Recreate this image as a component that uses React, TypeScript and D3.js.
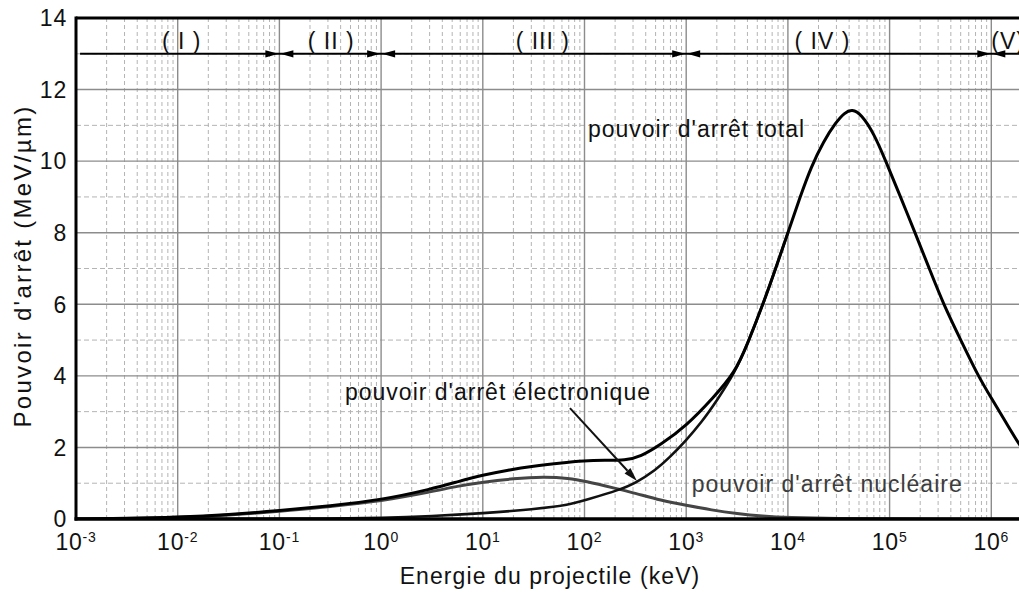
import React from 'react';
import * as d3 from 'd3';

const W = 1019;
const H = 593;

// Axis domains
const E_MIN = 1e-3;
const E_MAX = 1e7;
const Y_MIN = 0;
const Y_MAX = 14;

const X_TICK_EXPONENTS = [-3, -2, -1, 0, 1, 2, 3, 4, 5, 6];
const Y_TICKS = [0, 2, 4, 6, 8, 10, 12, 14];
const Y_MINOR = [1, 3, 5, 7, 9, 11, 13];

// Curves: log10(E in keV) and stopping power (MeV/µm)
const TOTAL_LOG_E = [-3, -2.5, -2, -1.5, -1, -0.5, 0, 0.5, 0.75, 1, 1.25, 1.5, 1.75, 2, 2.2, 2.4, 2.55, 2.75, 3, 3.27, 3.48, 3.6, 3.755, 3.88, 4.0, 4.12, 4.23, 4.35, 4.47, 4.56, 4.63, 4.72, 4.85, 4.955, 5.1, 5.25, 5.39, 5.53, 5.7, 5.87, 6.0, 6.14, 6.28, 6.45];
const TOTAL_VALUES = [0, 0.015, 0.05, 0.12, 0.23, 0.37, 0.53, 0.84, 1.04, 1.23, 1.37, 1.48, 1.56, 1.63, 1.64, 1.64, 1.74, 2.08, 2.6, 3.4, 4.1, 4.87, 6.0, 7.0, 8.0, 9.0, 9.85, 10.55, 11.08, 11.36, 11.45, 11.32, 10.75, 10.05, 9.05, 8.0, 7.0, 6.0, 5.0, 4.0, 3.38, 2.72, 2.05, 1.35];

const ELEC_LOG_E = [-3, -2, -1, -0.5, 0, 0.5, 1, 1.5, 1.86, 2, 2.35, 2.5, 2.7, 2.83, 3, 3.15, 3.3, 3.48, 3.6, 3.755, 3.88, 4.0];
const ELEC_VALUES = [0, 0.001, 0.004, 0.01, 0.03, 0.08, 0.16, 0.27, 0.4, 0.52, 0.82, 1.0, 1.37, 1.7, 2.2, 2.7, 3.3, 4.1, 4.87, 6.0, 7.0, 8.0];

const NUCL_LOG_E = [-3, -2.5, -2, -1.5, -1, -0.5, 0, 0.5, 0.75, 1, 1.3, 1.6, 1.85, 2, 2.3, 2.5, 2.75, 3, 3.25, 3.5, 3.75, 4, 4.5, 5, 6, 6.5];
const NUCL_VALUES = [0, 0.012, 0.04, 0.11, 0.21, 0.35, 0.5, 0.76, 0.92, 1.03, 1.13, 1.18, 1.14, 1.06, 0.86, 0.72, 0.52, 0.38, 0.25, 0.15, 0.08, 0.04, 0.012, 0.003, 0, 0];

// Energy-range regions
const REGION_BOUNDS_LOG = [-1, 0, 3, 6];
const REGION_LINE_START_LOG = -2.96;
const REGION_LINE_VALUE = 13;
const REGION_LABELS = ['( I )', '( II )', '( III )', '( IV )', '(V)'];
const REGION_LABEL_LOG = [-1.96, -0.49, 1.59, 4.34, 6.0];
const REGION_LABEL_ANCHOR = ['middle', 'middle', 'middle', 'middle', 'start'];

// Annotations (data coordinates: log10 E, value)
const LABEL_TOTAL = { text: "pouvoir d'arrêt total", logE: 2.034, v: 10.68 };
const LABEL_ELEC = { text: "pouvoir d'arrêt électronique", logE: -0.355, v: 3.32 };
const LABEL_NUCL = { text: "pouvoir d'arrêt nucléaire", logE: 3.054, v: 0.76 };
const ELEC_ARROW = { fromLogE: 1.857, fromV: 3.1, toLogE: 2.516, toV: 1.06 };

const X_TITLE = 'Energie du projectile (keV)';
const Y_TITLE = "Pouvoir d'arrêt (MeV/µm)";

const FONT = '"Liberation Sans", Arial, Helvetica, sans-serif';

export default function App() {
  const left = 76;
  const top = 18;
  const bottom = 519;
  const decade = 101.7;
  const right = left + decade * (Math.log10(E_MAX) - Math.log10(E_MIN));

  const x = d3.scaleLog().domain([E_MIN, E_MAX]).range([left, right]);
  const y = d3.scaleLinear().domain([Y_MIN, Y_MAX]).range([bottom, top]);

  const toPts = (le: number[], vs: number[]) => le.map((l, i) => [Math.pow(10, l), vs[i]] as [number, number]);
  const line = d3
    .line<[number, number]>()
    .x((d) => x(d[0]))
    .y((d) => y(d[1]))
    .curve(d3.curveBasis);

  const majorX: number[] = [];
  const minorX: number[] = [];
  for (let k = -3; k < 7; k++) {
    if (k > -3) majorX.push(Math.pow(10, k));
    for (let m = 2; m <= 9; m++) minorX.push(m * Math.pow(10, k));
  }

  const yLine = y(REGION_LINE_VALUE);
  const arrowLen = 13;
  const arrowHalf = 3.6;

  const ax1 = x(Math.pow(10, ELEC_ARROW.fromLogE));
  const ay1 = y(ELEC_ARROW.fromV);
  const ax2 = x(Math.pow(10, ELEC_ARROW.toLogE));
  const ay2 = y(ELEC_ARROW.toV);
  const ang = Math.atan2(ay2 - ay1, ax2 - ax1);
  const headL = 14;
  const headW = 4;
  const bx = ax2 - headL * Math.cos(ang);
  const by = ay2 - headL * Math.sin(ang);
  const px = -Math.sin(ang) * headW;
  const py = Math.cos(ang) * headW;

  return (
    <svg
      width={W}
      height={H}
      style={{ position: 'absolute', left: 0, top: 0, background: '#fff' }}
      fontFamily={FONT}
    >
      <defs>
        <clipPath id="plotclip">
          <rect x={left} y={top} width={right - left} height={bottom - top} />
        </clipPath>
      </defs>
      <rect x={0} y={0} width={W} height={H} fill="#fff" />

      {/* minor grid */}
      <g stroke="#b4b4b4" strokeWidth={1} strokeDasharray="4,3" fill="none">
        {minorX.map((v, i) => (
          <line key={'mx' + i} x1={x(v)} x2={x(v)} y1={top} y2={bottom} />
        ))}
        {Y_MINOR.map((v) => (
          <line key={'my' + v} x1={left} x2={right} y1={y(v)} y2={y(v)} strokeDasharray="5,3" />
        ))}
      </g>
      {/* major grid */}
      <g stroke="#8c8c8c" strokeWidth={1.4} fill="none">
        {majorX.map((v, i) => (
          <line key={'Mx' + i} x1={x(v)} x2={x(v)} y1={top} y2={bottom} />
        ))}
        {Y_TICKS.filter((v) => v > 0 && v < 14).map((v) => (
          <line key={'My' + v} x1={left} x2={right} y1={y(v)} y2={y(v)} />
        ))}
      </g>

      {/* curves */}
      <g clipPath="url(#plotclip)" fill="none" strokeLinecap="round" strokeLinejoin="round">
        <path d={line(toPts(NUCL_LOG_E, NUCL_VALUES)) || ''} stroke="#454545" strokeWidth={3} />
        <path d={line(toPts(ELEC_LOG_E, ELEC_VALUES)) || ''} stroke="#111" strokeWidth={2.6} />
        <path d={line(toPts(TOTAL_LOG_E, TOTAL_VALUES)) || ''} stroke="#000" strokeWidth={3} />
      </g>

      {/* frame */}
      <line x1={left} x2={W} y1={top} y2={top} stroke="#000" strokeWidth={3} />
      <line x1={left} x2={left} y1={top - 1.5} y2={bottom + 1.5} stroke="#000" strokeWidth={3} />
      <line x1={left - 1.5} x2={W} y1={bottom} y2={bottom} stroke="#000" strokeWidth={3.5} />

      {/* region arrows */}
      <line
        x1={x(Math.pow(10, REGION_LINE_START_LOG))}
        x2={W}
        y1={yLine}
        y2={yLine}
        stroke="#000"
        strokeWidth={2}
      />
      {REGION_BOUNDS_LOG.map((b, i) => {
        const xb = x(Math.pow(10, b));
        return (
          <g key={'rb' + i} fill="#000">
            <path d={`M${xb - 1},${yLine} L${xb - 1 - arrowLen},${yLine - arrowHalf} L${xb - 1 - arrowLen},${yLine + arrowHalf} Z`} />
            <path d={`M${xb + 1},${yLine} L${xb + 1 + arrowLen},${yLine - arrowHalf} L${xb + 1 + arrowLen},${yLine + arrowHalf} Z`} />
          </g>
        );
      })}
      {REGION_LABELS.map((t, i) => (
        <text
          key={'rl' + i}
          x={x(Math.pow(10, REGION_LABEL_LOG[i]))}
          y={49}
          fontSize={23}
          textAnchor={REGION_LABEL_ANCHOR[i] as any}
          fill="#111"
          letterSpacing={1}
        >
          {t}
        </text>
      ))}

      {/* y ticks */}
      {Y_TICKS.map((v) => (
        <text key={'yt' + v} x={67} y={y(v)} dy="0.36em" fontSize={23} textAnchor="end" fill="#111" letterSpacing={0.8}>
          {v}
        </text>
      ))}
      {/* x ticks */}
      {X_TICK_EXPONENTS.map((k) => (
        <text key={'xt' + k} x={x(Math.pow(10, k))} y={550} textAnchor="middle" fill="#111" fontSize={23} letterSpacing={0.8}>
          <tspan>10</tspan>
          <tspan fontSize={14} dy={-8.5}>
            {k < 0 ? '-' + Math.abs(k) : String(k)}
          </tspan>
        </text>
      ))}

      {/* axis titles */}
      <text x={550} y={584} fontSize={23} textAnchor="middle" fill="#111" letterSpacing={1.1}>
        {X_TITLE}
      </text>
      <text
        transform={`translate(31,266) rotate(-90)`}
        fontSize={24}
        textAnchor="middle"
        fill="#111"
        letterSpacing={2.3}
      >
        {Y_TITLE}
      </text>

      {/* annotations */}
      <text x={x(Math.pow(10, LABEL_TOTAL.logE))} y={y(LABEL_TOTAL.v)} fontSize={23} fill="#111" letterSpacing={1}>
        {LABEL_TOTAL.text}
      </text>
      <text x={x(Math.pow(10, LABEL_ELEC.logE))} y={y(LABEL_ELEC.v)} fontSize={23} fill="#111" letterSpacing={1}>
        {LABEL_ELEC.text}
      </text>
      <text x={x(Math.pow(10, LABEL_NUCL.logE))} y={y(LABEL_NUCL.v)} fontSize={23} fill="#3c3c3c" letterSpacing={1}>
        {LABEL_NUCL.text}
      </text>
      <line x1={ax1} y1={ay1} x2={bx} y2={by} stroke="#111" strokeWidth={2} />
      <path d={`M${ax2},${ay2} L${bx + px},${by + py} L${bx - px},${by - py} Z`} fill="#111" />
    </svg>
  );
}
